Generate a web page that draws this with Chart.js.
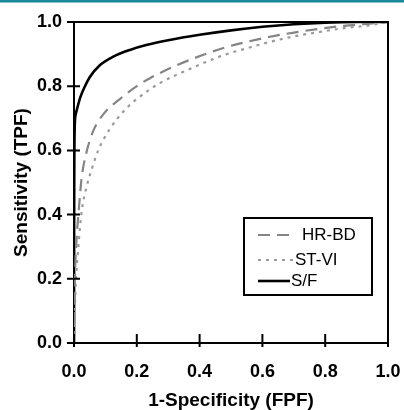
<!DOCTYPE html>
<html>
<head>
<meta charset="utf-8">
<title>ROC curves</title>
<script src="https://cdn.jsdelivr.net/npm/chart.js@4.4.0/dist/chart.umd.min.js"></script>
<style>
  body { margin: 0; background: #fff; }
  canvas { display: block; }
</style>
</head>
<body>
<canvas id="roc" width="404" height="410"></canvas>
<script>
"use strict";

// ROC data (FPF on x, TPF on y)

const SERIES_LABELS = ["HR-BD", "ST-VI", "S/F"];

const hrbdFpf = [0, 0.003, 0.008, 0.014, 0.019, 0.025, 0.04, 0.061, 0.093, 0.146, 0.2, 0.242, 0.327, 0.412, 0.486, 0.55, 0.624, 0.7, 0.783, 0.86, 0.943, 1.0];
const hrbdTpf = [0, 0.2, 0.32, 0.4, 0.46, 0.52, 0.595, 0.66, 0.712, 0.76, 0.8, 0.825, 0.865, 0.898, 0.922, 0.938, 0.954, 0.967, 0.979, 0.988, 0.995, 1.0];

const stviFpf = [0, 0.004, 0.009, 0.014, 0.019, 0.025, 0.04, 0.056, 0.077, 0.115, 0.162, 0.2, 0.274, 0.36, 0.48, 0.55, 0.624, 0.7, 0.783, 0.86, 0.943, 1.0];
const stviTpf = [0, 0.15, 0.24, 0.3, 0.36, 0.414, 0.487, 0.54, 0.6, 0.668, 0.726, 0.76, 0.81, 0.85, 0.898, 0.918, 0.938, 0.955, 0.969, 0.981, 0.99, 1.0];

const sfFpf = [0, 0.0005, 0.002, 0.005, 0.01, 0.02, 0.035, 0.05, 0.083, 0.125, 0.178, 0.23, 0.3, 0.4, 0.5, 0.6, 0.7, 0.8, 0.9, 1.0];
const sfTpf = [0, 0.4, 0.66, 0.71, 0.73, 0.765, 0.8, 0.828, 0.866, 0.892, 0.913, 0.928, 0.943, 0.96, 0.974, 0.985, 0.993, 0.998, 1.0, 1.0];

const TICK_VALUES = [0, 0.2, 0.4, 0.6, 0.8, 1.0];

function toPoints(xs, ys) {
    return xs.map(function(x, i) { return { x: x, y: ys[i] }; });
}

// Frame, crossing tick marks, teal header rule and the boxed legend

const rocFrame = {
    id: "rocFrame",
    afterDraw: function(chart) {
        const ctx = chart.ctx;
        const area = chart.chartArea;
        const xs = chart.scales.x;
        const ys = chart.scales.y;

        ctx.save();
        ctx.fillStyle = "#17899a";
        ctx.fillRect(0, 0, chart.width, 2.5);

        ctx.strokeStyle = "#000";
        ctx.lineWidth = 2;
        ctx.beginPath();
        ctx.moveTo(area.left, area.top);
        ctx.lineTo(area.right, area.top);
        ctx.lineTo(area.right, area.bottom);
        ctx.stroke();

        ctx.beginPath();
        TICK_VALUES.forEach(function(v) {
            const px = xs.getPixelForValue(v);
            ctx.moveTo(px, area.bottom + 4);
            ctx.lineTo(px, area.bottom - 9);
            const py = ys.getPixelForValue(v);
            ctx.moveTo(area.left - 7, py);
            ctx.lineTo(area.left + 6, py);
        });
        ctx.stroke();

        // legend box
        const boxW = 128, boxH = 77;
        const bx = area.right - 16 - boxW;
        const by = area.bottom - 48 - boxH;
        ctx.fillStyle = "#fff";
        ctx.fillRect(bx, by, boxW, boxH);
        ctx.lineWidth = 2;
        ctx.strokeStyle = "#000";
        ctx.strokeRect(bx, by, boxW, boxH);

        const rows = [
            { y: by + 17, x0: bx + 14, x1: bx + 46, tx: bx + 58 },
            { y: by + 42, x0: bx + 14, x1: bx + 49, tx: bx + 51 },
            { y: by + 63, x0: bx + 14, x1: bx + 46, tx: bx + 47 }
        ];
        ctx.font = "17px 'Liberation Sans', Arial, sans-serif";
        ctx.textBaseline = "middle";
        ctx.textAlign = "left";
        chart.data.datasets.forEach(function(ds, i) {
            const r = rows[i];
            ctx.beginPath();
            ctx.strokeStyle = ds.borderColor;
            ctx.lineWidth = ds.borderWidth;
            ctx.setLineDash(ds.borderDash || []);
            ctx.moveTo(r.x0, r.y);
            ctx.lineTo(r.x1, r.y);
            ctx.stroke();
            ctx.setLineDash([]);
            ctx.fillStyle = "#000";
            ctx.fillText(ds.label, r.tx, r.y);
        });
        ctx.restore();
    }
};

const tickFont = { family: "'Liberation Sans', Arial, sans-serif", size: 18, weight: "bold" };
const titleFont = { family: "'Liberation Sans', Arial, sans-serif", size: 19, weight: "bold", lineHeight: 1.0 };

new Chart(document.getElementById("roc"), {
    type: "scatter",
    data: {
        datasets: [
            {
                label: SERIES_LABELS[0],
                data: toPoints(hrbdFpf, hrbdTpf),
                showLine: true,
                borderColor: "#858585",
                borderWidth: 2.2,
                borderDash: [12, 7],
                pointRadius: 0,
                cubicInterpolationMode: "monotone"
            },
            {
                label: SERIES_LABELS[1],
                data: toPoints(stviFpf, stviTpf),
                showLine: true,
                borderColor: "#9a9a9a",
                borderWidth: 2.2,
                borderDash: [3, 5],
                pointRadius: 0,
                cubicInterpolationMode: "monotone"
            },
            {
                label: SERIES_LABELS[2],
                data: toPoints(sfFpf, sfTpf),
                showLine: true,
                borderColor: "#000",
                borderWidth: 2.6,
                pointRadius: 0,
                cubicInterpolationMode: "monotone"
            }
        ]
    },
    options: {
        responsive: false,
        animation: false,
        devicePixelRatio: 1,
        layout: { padding: { top: 22, right: 16, bottom: 0, left: 0 } },
        plugins: {
            legend: { display: false },
            tooltip: { enabled: false }
        },
        scales: {
            x: {
                type: "linear",
                min: 0,
                max: 1,
                afterFit: function(s) {
                    s.height = 67;
                    s.paddingLeft = 0;
                    s.paddingRight = 0;
                },
                afterBuildTicks: function(s) { s.ticks = TICK_VALUES.map(function(v) { return { value: v }; }); },
                grid: { display: false, drawTicks: false },
                border: { display: true, color: "#000", width: 2 },
                ticks: {
                    color: "#000",
                    font: tickFont,
                    padding: 18,
                    callback: function(v) { return v.toFixed(1); }
                },
                title: {
                    display: true,
                    text: "1-Specificity (FPF)",
                    color: "#000",
                    font: titleFont,
                    padding: { top: 0, bottom: 0 }
                }
            },
            y: {
                type: "linear",
                min: 0,
                max: 1,
                afterFit: function(s) {
                    s.width = 74;
                    s.paddingTop = 0;
                    s.paddingBottom = 0;
                },
                afterBuildTicks: function(s) { s.ticks = TICK_VALUES.map(function(v) { return { value: v }; }); },
                grid: { display: false, drawTicks: false },
                border: { display: true, color: "#000", width: 2 },
                ticks: {
                    color: "#000",
                    font: tickFont,
                    padding: 12,
                    callback: function(v) { return v.toFixed(1); }
                },
                title: {
                    display: true,
                    text: "Sensitivity (TPF)",
                    color: "#000",
                    font: titleFont,
                    padding: { top: 12, bottom: 0 }
                }
            }
        }
    },
    plugins: [rocFrame]
});
</script>
</body>
</html>
